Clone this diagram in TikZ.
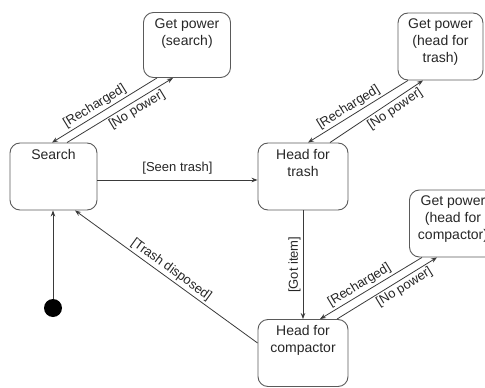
\documentclass[tikz,border=0pt]{standalone}
\usepackage{fontspec}
\setmainfont{Liberation Sans}
\usetikzlibrary{arrows.meta,positioning}
\definecolor{lineGray}{HTML}{3A3A3A}
\definecolor{boxGray}{HTML}{5A5A5A}

\begin{document}
\begin{tikzpicture}[x=1pt,y=-1pt,
  statebox/.style={draw=boxGray,line width=0.9pt,rounded corners=10pt,minimum width=#1,minimum height=67pt,inner sep=0pt},
  statebox/.default=87pt,
  title/.style={label={[anchor=north,yshift=-3pt,align=center,font=\fontsize{14}{17}\selectfont,text=black!85]north:{#1}}},
  arr/.style={draw=lineGray,line width=0.8pt,-{Stealth[length=6pt,width=4.5pt]}},
  lbl/.style={font=\fontsize{13}{15}\selectfont,text=black!85,inner sep=2pt}]
\useasboundingbox (0,0) rectangle (485,388);
\clip (0,0) rectangle (485,388);
% states
\node[statebox,minimum height=65pt,title={Get power\\(search)}] (gpSearch) at (187,45) {};
\node[statebox,title={Search}] (search) at (53.5,176.5) {};
\node[statebox=90pt,title={Head for\\trash}] (trash) at (303,176.5) {};
\node[statebox=85pt,title={Get power\\(head for\\trash)}] (gpTrash) at (440.5,46.5) {};
\node[statebox,title={Get power\\(head for\\compactor)}] (gpComp) at (453,223.5) {};
\node[statebox=90pt,title={Head for\\compactor}] (comp) at (303,353) {};
\node[circle,fill=black,minimum size=18pt,inner sep=0pt] (init) at (53,308) {};
% transitions
\draw[arr] (init) -- ([xshift=-0.5pt]search.south);
\draw[arr] (search.east |- 0,180) -- node[lbl,above=3pt] {[Seen trash]} (trash.west |- 0,180);
\draw[arr] ([xshift=-30pt]gpSearch.south) -- node[lbl,sloped,above,pos=0.55] {[Recharged]} ([xshift=-1.5pt]search.north);
\draw[arr] ([xshift=13.5pt]search.north) -- node[lbl,sloped,below,pos=0.62] {[No power]} ([xshift=-14pt]gpSearch.south);
\draw[arr] ([xshift=-32.5pt]gpTrash.south) -- node[lbl,sloped,above,pos=0.55] {[Recharged]} ([xshift=5pt]trash.north);
\draw[arr] ([xshift=27pt]trash.north) -- node[lbl,sloped,below,pos=0.65] {[No power]} ([xshift=-17.5pt]gpTrash.south);
\draw[arr] (trash) -- node[lbl,midway,rotate=90,anchor=south] {[Got item]} (comp);
\draw[arr] ([xshift=-31pt]gpComp.south) -- node[lbl,sloped,above,pos=0.57] {[Recharged]} ([xshift=17pt]comp.north);
\draw[arr] ([xshift=34pt]comp.north) -- node[lbl,sloped,below,pos=0.63] {[No power]} ([xshift=-16pt]gpComp.south);
\draw[arr] ([yshift=10pt]comp.west) -- node[lbl,sloped,above,pos=0.5] {[Trash disposed]} ([xshift=21.5pt]search.south);
\end{tikzpicture}
\end{document}
